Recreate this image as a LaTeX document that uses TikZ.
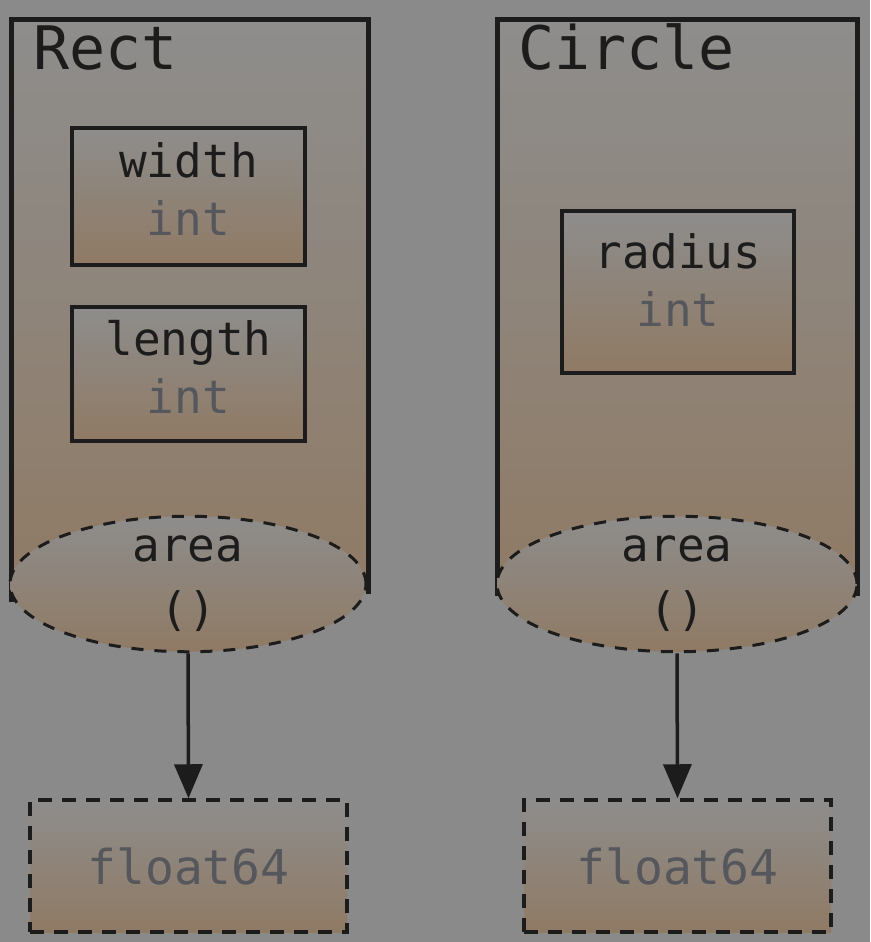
\documentclass[tikz,border=0pt]{standalone}
\usepackage{fontspec}
\setmonofont{DejaVu Sans Mono}
\usetikzlibrary{shapes.geometric,arrows.meta}
\definecolor{bg}{HTML}{8A8A8A}
\definecolor{topgray}{HTML}{8E8D8C}
\definecolor{tan}{HTML}{8F7A64}
\definecolor{ink}{HTML}{1C1C1C}
\definecolor{typegray}{HTML}{55575C}
\tikzset{
  x=1pt, y=-1pt,
  container/.style={rectangle, draw=none, top color=topgray, bottom color=tan, middle color=topgray!55!tan, inner sep=0pt},
  field/.style={rectangle, draw=ink, line width=3.5pt, top color=topgray, bottom color=tan, inner sep=0pt, align=center,
    font=\ttfamily\fontsize{46}{58}\selectfont, text=ink},
  method/.style={ellipse, draw=ink, dash pattern=on 12pt off 11pt, line width=3pt, top color=topgray, bottom color=tan, inner sep=0pt, align=center,
    font=\ttfamily\fontsize{46}{64}\selectfont, text=ink},
  result/.style={rectangle, draw=ink, dash pattern=on 14pt off 10pt, line width=3.5pt, top color=topgray, bottom color=tan, inner sep=0pt,
    font=\ttfamily\fontsize{48}{58}\selectfont, text=typegray},
  title/.style={anchor=base west, inner sep=0pt, font=\ttfamily\fontsize{60}{60}\selectfont, text=ink},
  conn/.style={line width=3.5pt, draw=ink, -{Triangle[length=34pt,width=28pt]}},
  wall/.style={line width=5pt, draw=ink}
}
\begin{document}
\begin{tikzpicture}
\fill[bg] (0,0) rectangle (870,942);
\useasboundingbox (0,0) rectangle (870,942);
% containers
\node[container, minimum width=356pt, minimum height=572pt] (rectc) at (190,306) {};
\node[container, minimum width=359pt, minimum height=572pt] (circc) at (677.5,306) {};
\draw[wall] ([yshift=-10pt]rectc.south west) -- (rectc.north west) -- (rectc.north east) -- ([yshift=-2pt]rectc.south east);
\draw[wall] ([yshift=-4pt]circc.south west) -- (circc.north west) -- (circc.north east) -- ([yshift=-4pt]circc.south east);
\node[title] (rectt) at (33,70) {Rect};
\node[title] (circt) at (518,70) {Circle};
% fields
\node[field, text depth=14pt, minimum width=233pt, minimum height=137pt] (width) at (188.5,196.5) {width\\\textcolor{typegray}{int}};
\node[field, text depth=14pt, minimum width=233pt, minimum height=134pt] (length) at (188.5,374) {length\\\textcolor{typegray}{int}};
\node[field, text depth=24pt, minimum width=232pt, minimum height=162pt] (radius) at (678,292) {radius\\\textcolor{typegray}{int}};
% methods
\node[method, minimum width=356pt, minimum height=126pt] (area1) at (188,584) {area\\()};
\node[method, minimum width=360pt, minimum height=126pt] (area2) at (677,584) {area\\()};
% results
\node[result, minimum width=317pt, minimum height=132pt] (f1) at (188.5,866) {float64};
\node[result, minimum width=307pt, minimum height=132pt] (f2) at (677.5,866) {float64};
% connectors
\draw[conn] (area1.south) -- (f1.north);
\draw[conn] (area2.south) -- (f2.north);
\end{tikzpicture}
\end{document}
